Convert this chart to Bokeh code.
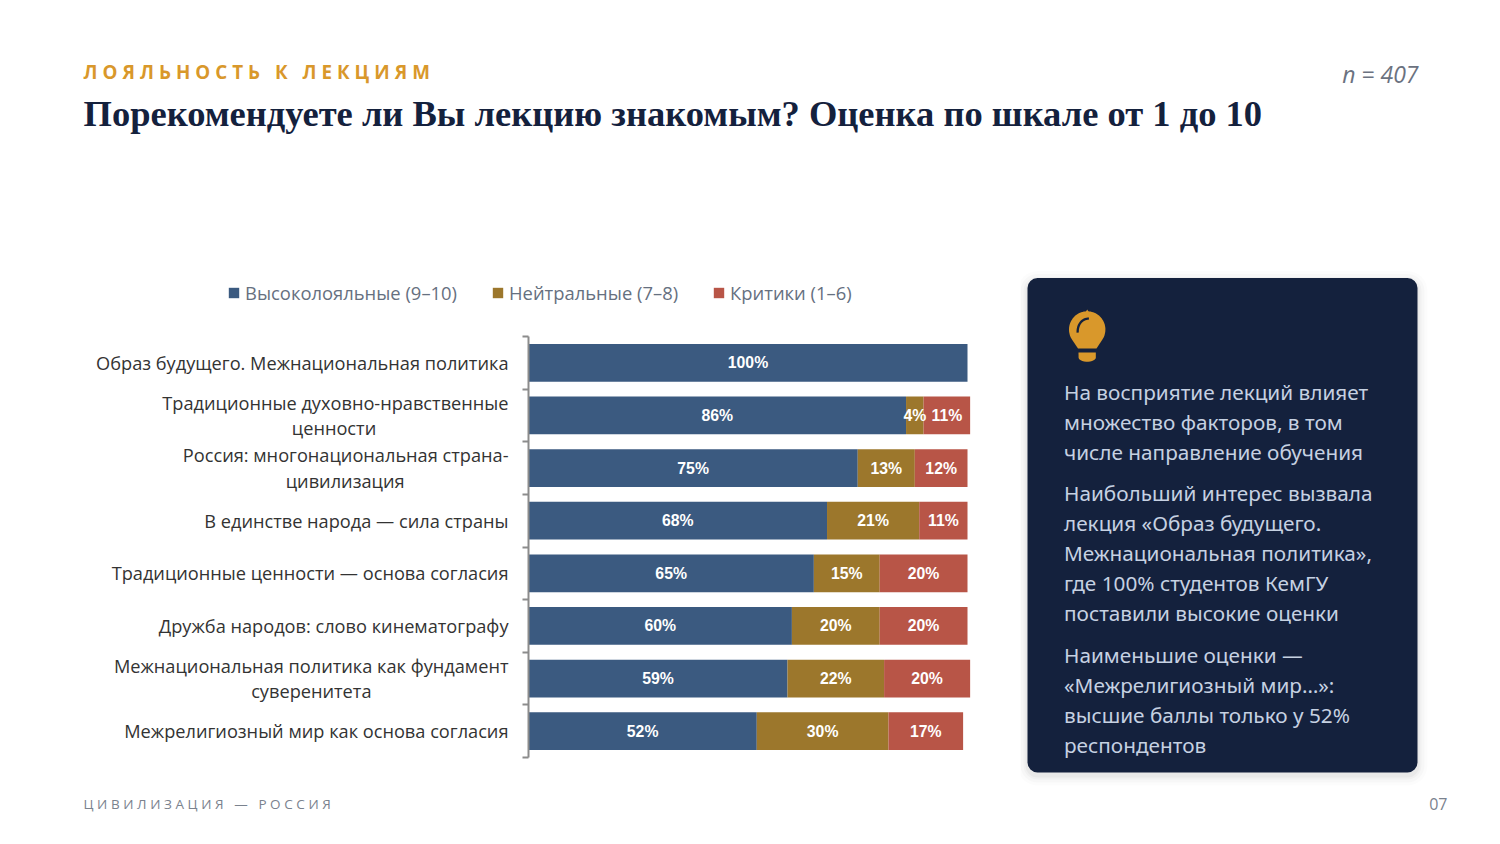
import numpy as np
from bokeh.plotting import figure
from bokeh.layouts import column, row
from bokeh.models import (ColumnDataSource, Range1d, LinearAxis, FixedTicker,
                          BoxAnnotation, Legend, LegendItem)
from bokeh.core.properties import value
from bokeh.embed import file_html
from bokeh.resources import INLINE

categories = [
    "Образ будущего. Межнациональная политика",
    "Традиционные духовно-нравственные\nценности",
    "Россия: многонациональная страна-\nцивилизация",
    "В единстве народа — сила страны",
    "Традиционные ценности — основа согласия",
    "Дружба народов: слово кинематографу",
    "Межнациональная политика как фундамент\nсуверенитета",
    "Межрелигиозный мир как основа согласия",
]
loyal = [100, 86, 75, 68, 65, 60, 59, 52]
neutral = [0, 4, 13, 21, 15, 20, 22, 30]
critics = [0, 10.6, 12, 11, 20, 20, 19.6, 17]
series_names = ["Высоколояльные (9–10)", "Нейтральные (7–8)", "Критики (1–6)"]
panel_lines = [
    ["На восприятие лекций влияет", "множество факторов, в том", "числе направление обучения"],
    ["Наибольший интерес вызвала", "лекция «Образ будущего.", "Межнациональная политика»,", "где 100% студентов КемГУ", "поставили высокие оценки"],
    ["Наименьшие оценки —", "«Межрелигиозный мир…»:", "высшие баллы только у 52%", "респондентов"],
]
# non-breaking spaces that centre a wrapped second line under its first line
second_line_pad = [0, 28, 22, 0, 0, 0, 29, 0]

COL = ["#3B5A80", "#9C772C", "#B85547"]
FIG_W, FIG_H = 1484, 828
TOP, CHART_TOP, SPLIT, BOTTOM = 268, 320, 1020, 790
F_L, F_T, F_W, F_H = 528, 336, 447, 421   # chart frame in page px
PX_PER_PCT = 4.39


def canvas(x0, x1, y0, y1):
    f = figure(width=x1 - x0, height=y1 - y0, output_backend="svg", toolbar_location=None,
               x_range=Range1d(x0, x1), y_range=Range1d(y1, y0), x_axis_location=None, y_axis_location=None,
               min_border=0, outline_line_color=None, background_fill_color="white", border_fill_color="white",
               frame_align=False)
    f.xgrid.visible = False
    f.ygrid.visible = False
    return f


def txt(f, x, y, t, size, color, font="Open Sans", style="normal", align="left"):
    f.text(x=[x], y=[y], text=[t], text_font=value(font), text_font_size=f"{size}px", text_font_style=style,
           text_color=color, text_align=align, text_baseline="middle")


def spaced(t):
    return "\u2009\u200a".join(t)


# header
head = canvas(0, FIG_W, 0, TOP)
txt(head, 83, 71, spaced("ЛОЯЛЬНОСТЬ К ЛЕКЦИЯМ"), 18.8, "#D9982B", style="bold")
txt(head, 83, 113, "Порекомендуете ли Вы лекцию знакомым? Оценка по шкале от 1 до 10", 36.5, "#14213D",
    font="Liberation Serif", style="bold")
txt(head, 1418, 73, "n = 407", 23, "#6B7280", style="italic", align="right")

# legend strip
strip = canvas(0, SPLIT, TOP, CHART_TOP)
nan = float("nan")
keys = [strip.quad(left=[nan], right=[nan], top=[nan], bottom=[nan], color=col, line_color=None) for col in COL]
legend = Legend(items=[LegendItem(label=nm, renderers=[r]) for nm, r in zip(series_names, keys)],
                orientation="horizontal", location=(227, 15), padding=0, margin=0, spacing=34,
                glyph_width=13, glyph_height=13, label_standoff=5, border_line_color=None,
                background_fill_alpha=0, label_text_font="Open Sans", label_text_font_size="18.4px",
                label_text_color="#66707F")
strip.add_layout(legend, "center")

# chart
start = 0.0
chart = figure(width=SPLIT, height=BOTTOM - CHART_TOP, output_backend="svg", toolbar_location=None,
               x_range=Range1d(start, start + F_W / PX_PER_PCT), y_range=Range1d(len(categories), 0),
               x_axis_location=None, y_axis_location=None, frame_align=False,
               min_border_left=F_L, min_border_top=F_T - CHART_TOP, min_border_right=SPLIT - F_L - F_W,
               min_border_bottom=BOTTOM - F_T - F_H, outline_line_color=None, background_fill_color="white",
               border_fill_color="white")
chart.xgrid.visible = False
chart.ygrid.visible = False

rows = [i + 0.5 for i in range(len(categories))]
boundaries = list(range(len(categories) + 1))
tick_labels = [c + "\u00a0" * k for c, k in zip(categories, second_line_pad)]
axis = LinearAxis(ticker=FixedTicker(ticks=rows, minor_ticks=boundaries), major_label_overrides=dict(zip(rows, tick_labels)),
                  major_tick_line_color=None, major_tick_out=0, major_tick_in=0,
                  minor_tick_out=6, minor_tick_in=0, minor_tick_line_color="#8c8c8c", minor_tick_line_width=2,
                  axis_line_color="#8c8c8c", axis_line_width=2,
                  major_label_text_font="Open Sans", major_label_text_font_size="18.2px",
                  major_label_text_color="#333333", major_label_standoff=14, major_label_text_line_height=1.05)
chart.add_layout(axis, "left")

src = ColumnDataSource(dict(y=rows, loyal=loyal, neutral=neutral, critics=critics))
chart.hbar_stack(["loyal", "neutral", "critics"], y="y", height=0.715, color=COL, source=src, line_color=None)

l, n, c = np.array(loyal, dtype=float), np.array(neutral, dtype=float), np.array(critics, dtype=float)
for base, vals in ((0 * l, l), (l, n), (l + n, c)):
    keep = vals > 0
    s = ColumnDataSource(dict(x=(base + vals / 2)[keep].tolist(),
                              y=np.array(rows)[keep].tolist(),
                              t=[f"{v:.0f}%" for v in vals[keep]]))
    chart.text(x="x", y="y", text="t", source=s, text_color="white", text_align="center", text_baseline="middle",
               text_font=value("Liberation Sans"), text_font_style="bold", text_font_size="15.8px")

# insight panel
panel = canvas(SPLIT, FIG_W, TOP, BOTTOM)
for grow, alpha in ((10, 0.012), (7, 0.018), (4, 0.025), (2, 0.03)):
    panel.add_layout(BoxAnnotation(left=1027 - grow, right=1417 + grow, top=277.5 - grow + 3, bottom=772 + grow + 3,
                                   fill_color="black", fill_alpha=alpha, line_color=None, border_radius=10 + grow,
                                   level="underlay"))
panel.add_layout(BoxAnnotation(left=1027, right=1417, top=277.5, bottom=772, fill_color="#14213D", fill_alpha=1,
                               line_color=None, border_radius=10, level="underlay"))

cx, cy, r = 1086.7, 329, 18.2
a = np.radians(np.linspace(215, -35, 60))
panel.patch(list(cx + r * np.cos(a)) + [1096, 1077.5], list(cy - r * np.sin(a)) + [348, 348], color="#D9982B", line_color=None)
panel.patch([1085.2, 1088.2, 1086.7], [311.5, 311.5, 309], color="#D9982B", line_color=None)
b = np.radians(np.linspace(180, 360, 14))
panel.patch([1078] + list(1086.7 + 8.6 * np.cos(b)) + [1095.3], [352] + list(357 - 4.2 * np.sin(b)) + [352],
            color="#D9982B", line_color=None)
t = np.radians(np.linspace(85, 185, 16))
panel.patch(list(1087.5 + 11.5 * np.cos(t)) + list(1087.5 + 9.2 * np.cos(t[::-1])),
            list(331 - 14 * np.sin(t)) + list(331 - 11.7 * np.sin(t[::-1])), color="#14213D", line_color=None)

y_line = 391
for para in panel_lines:
    for line in para:
        txt(panel, 1063.5, y_line, line, 20.75, "#C6D1E2", font="Noto Sans")
        y_line += 30
    y_line += 11.75

# footer
foot = canvas(0, FIG_W, BOTTOM, FIG_H)
txt(foot, 83, 803, spaced("ЦИВИЛИЗАЦИЯ — РОССИЯ"), 13.5, "#7A828E")
txt(foot, 1447, 803, "07", 16, "#7A828E", align="right")

page = column(head, row(column(strip, chart, spacing=0), panel, spacing=0), foot, spacing=0)
open("out.html", "w").write(file_html(page, INLINE))
